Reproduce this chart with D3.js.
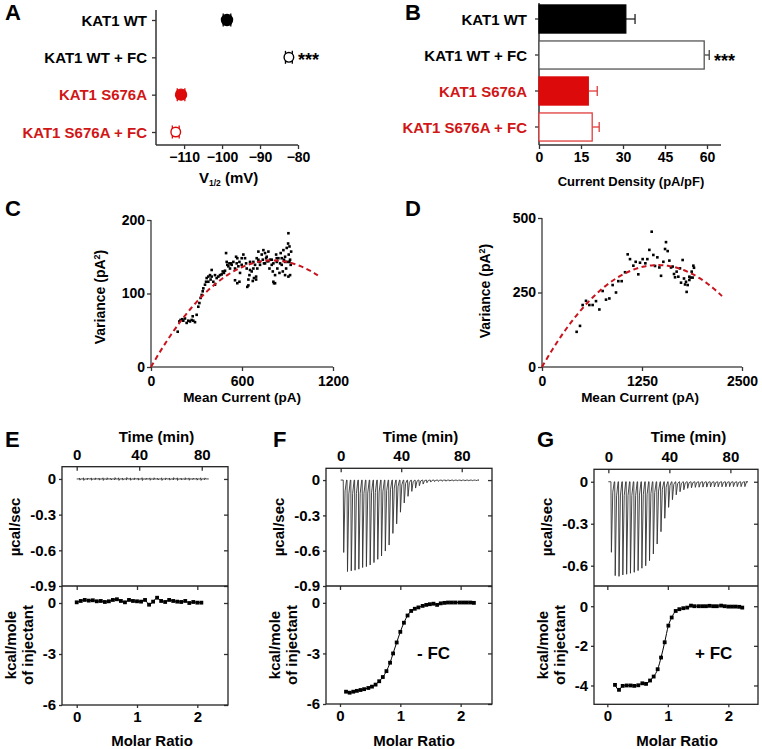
<!DOCTYPE html>
<html><head><meta charset="utf-8">
<script src="https://cdn.jsdelivr.net/npm/d3@7"></script>
<style>
body{margin:0;background:#fff;}
svg text{font-family:"Liberation Sans",Arial,Helvetica,sans-serif;font-weight:bold;}
</style></head><body>
<svg id="fig" width="762" height="749" xmlns="http://www.w3.org/2000/svg"></svg>
<script>
// ---------------- DATA ----------------
const categories = ["KAT1 WT", "KAT1 WT + FC", "KAT1 S676A", "KAT1 S676A + FC"];
const v12Mean = [-98.7, -82.4, -110.8, -112.2];
const v12Sem = [1.0, 0.9, 1.0, 0.9];
const v12Ticks = [-110, -100, -90, -80];
const densityMean = [31, 59, 17.6, 19];
const densitySem = [3.3, 1.8, 3.2, 2.5];
const densityTicks = [0, 15, 30, 45, 60];

// Panel C: mean current (pA), variance (pA^2)
const cPoints = [[176,48],[187,62],[195,64],[206,65],[213,63],[224,66],[235,60],[246,63],[257,62],[268,64],[279,63],[290,61],[301,71],[275,69],[312,82],[319,87],[327,94],[334,98],[341,103],[345,107],[356,112],[363,116],[367,121],[378,123],[389,125],[400,132],[393,119],[411,116],[422,112],[433,121],[444,123],[455,125],[466,126],[473,130],[481,128],[488,131],[495,155],[503,139],[510,137],[517,141],[521,134],[532,139],[543,143],[554,134],[561,150],[569,148],[576,137],[583,143],[587,128],[598,139],[609,153],[620,148],[627,141],[631,134],[635,109],[642,119],[649,125],[653,132],[664,130],[675,134],[679,121],[686,139],[693,123],[697,148],[701,134],[708,157],[715,143],[719,139],[730,153],[737,146],[741,159],[745,141],[752,155],[759,148],[763,150],[767,144],[774,157],[781,134],[785,146],[796,139],[803,130],[807,141],[811,114],[818,125],[825,153],[829,143],[833,134],[840,148],[847,128],[851,141],[855,155],[862,139],[869,130],[873,159],[877,146],[884,150],[891,134],[895,162],[899,143],[904,168],[906,182],[908,153],[913,164],[917,146],[917,125],[921,139],[924,157],[554,118],[569,114],[583,116],[642,111],[671,117],[693,119],[807,116],[818,114],[884,125],[906,123],[499,143],[528,141],[565,141],[598,148],[653,143],[675,143],[708,146],[752,141],[774,144],[796,146],[829,148],[862,148],[884,143],[913,143],[400,123],[422,125],[378,116]];
const cFitParams = [0.3625, 4414, 1100];   // i (pA), N, max current of fit
const cXTicks = [0, 600, 1200];
const cYTicks = [0, 100, 200];

// Panel D
const dPoints = [[433,118],[475,138],[508,208],[550,222],[592,208],[633,208],[675,221],[717,193],[758,255],[800,226],[842,230],[883,275],[925,250],[954,288],[996,288],[1038,318],[1071,378],[1100,362],[1142,340],[1171,353],[1204,311],[1225,350],[1258,362],[1292,348],[1317,362],[1342,393],[1371,454],[1392,376],[1413,339],[1442,368],[1467,334],[1488,306],[1517,353],[1538,396],[1550,419],[1571,389],[1592,357],[1613,334],[1633,337],[1650,312],[1663,301],[1683,320],[1704,303],[1725,331],[1738,283],[1758,359],[1775,297],[1788,277],[1808,252],[1821,275],[1842,292],[1858,300],[1871,320],[1883,300],[1892,340],[1900,333],[1800,286],[1842,303]];
const dFitParams = [0.4717, 6148, 2250];
const dXTicks = [0, 1250, 2500];
const dYTicks = [0, 250, 500];

// ITC panels
const injTimes = [1.7,4.2,6.7,9.2,11.7,14.2,16.7,19.2,21.7,24.2,26.7,29.2,31.7,34.2,36.7,39.2,41.7,44.2,46.7,49.2,51.7,54.2,56.7,59.2,61.7,64.2,66.7,69.2,71.7,74.2,76.7,79.2,81.7,84.2,86.7,89.2];
const ePeaks = [-0.010,-0.012,0.008,-0.011,0.009,-0.010,-0.012,0.010,-0.009,0.011,-0.012,-0.010,0.012,-0.011,0.009,-0.010,-0.013,0.008,-0.011,0.010,-0.009,-0.012,0.009,-0.010,0.011,-0.012,-0.009,0.010,-0.011,0.008,-0.010,-0.012,0.009];
const fPeaks = [-0.615,-0.777,-0.771,-0.766,-0.757,-0.743,-0.735,-0.721,-0.701,-0.673,-0.645,-0.603,-0.552,-0.453,-0.372,-0.273,-0.194,-0.138,-0.096,-0.068,-0.048,-0.034,-0.023,-0.017,-0.013,-0.011,-0.010,-0.009,-0.008,-0.008,-0.007,-0.007,-0.006,-0.006,-0.006,-0.005];
const gPeaks = [-0.504,-0.671,-0.676,-0.666,-0.661,-0.654,-0.647,-0.635,-0.618,-0.600,-0.564,-0.516,-0.445,-0.357,-0.261,-0.183,-0.128,-0.093,-0.071,-0.057,-0.047,-0.043,-0.040,-0.039,-0.038,-0.038,-0.037,-0.037,-0.036,-0.036,-0.036,-0.035,-0.035,-0.035,-0.035,-0.035];
const eHeat = [[0,0.04],[0.067,0.12],[0.133,0.18],[0.2,0.14],[0.267,0.16],[0.333,0.10],[0.4,0.12],[0.467,0.06],[0.533,0.10],[0.6,0.18],[0.667,0.22],[0.733,0.12],[0.8,0.04],[0.867,0.18],[0.933,0.12],[1.0,0.10],[1.067,0.08],[1.133,0.18],[1.2,-0.10],[1.267,0.08],[1.333,0.31],[1.4,0.12],[1.467,0.06],[1.533,0.18],[1.6,0.12],[1.667,0.08],[1.733,0.06],[1.8,0.12],[1.867,0.0],[1.933,0.06],[2.0,0.02],[2.067,0.02]];
const fHeat = [[0.10,-5.27],[0.16,-5.33],[0.22,-5.27],[0.28,-5.22],[0.34,-5.17],[0.40,-5.12],[0.47,-5.05],[0.53,-4.97],[0.59,-4.85],[0.65,-4.65],[0.71,-4.40],[0.77,-4.05],[0.83,-3.55],[0.88,-3.00],[0.94,-2.35],[1.00,-1.72],[1.06,-1.18],[1.12,-0.75],[1.18,-0.48],[1.24,-0.35],[1.30,-0.27],[1.37,-0.18],[1.43,-0.12],[1.49,-0.08],[1.55,-0.05],[1.61,-0.12],[1.67,-0.03],[1.73,0.0],[1.79,0.02],[1.85,0.02],[1.91,0.02],[1.98,0.02],[2.04,0.02],[2.10,0.02],[2.16,0.02],[2.22,0.0]];
const gHeat = [[0.127,-3.97],[0.193,-4.22],[0.254,-4.02],[0.32,-4.00],[0.386,-4.00],[0.446,-4.02],[0.512,-3.99],[0.579,-3.89],[0.64,-3.92],[0.706,-3.75],[0.766,-3.55],[0.832,-3.18],[0.888,-2.59],[0.948,-1.82],[1.009,-0.98],[1.064,-0.57],[1.13,-0.24],[1.19,-0.15],[1.256,-0.10],[1.32,-0.07],[1.383,0.03],[1.44,0.0],[1.51,0.0],[1.57,0.0],[1.63,0.0],[1.69,0.02],[1.75,0.0],[1.81,0.0],[1.88,0.03],[1.94,0.0],[2.0,-0.02],[2.06,-0.02],[2.12,-0.02],[2.18,-0.03],[2.23,-0.07]];
const timeTicks = [0, 40, 80];
const molarTicks = [0, 1, 2];
const efPowerTicks = [0, -0.3, -0.6, -0.9];
const gPowerTicks = [0, -0.3, -0.6];
const efHeatTicks = [0, -3, -6];
const gHeatTicks = [0, -2, -4];

// ---------------- DRAWING ----------------
const RED = "#dc0a0a";
const RED_TXT = "#d11616";
const AX = "#333";
const svg = d3.select("#fig");

function styleAxis(g, size) {
  g.attr("font-size", size).attr("font-family", '"Liberation Sans",Arial,sans-serif').attr("font-weight", "bold");
  g.select(".domain").remove();
  g.selectAll(".tick line").attr("stroke", AX).attr("stroke-width", 1.3);
  g.selectAll(".tick text").attr("fill", "#000");
}
function text(x, y, s, size, anchor, fill) {
  return svg.append("text").attr("x", x).attr("y", y).attr("font-size", size)
    .attr("text-anchor", anchor || "start").attr("fill", fill || "#000").text(s);
}
function vline(x, y1, y2, c, w) { svg.append("line").attr("x1", x).attr("x2", x).attr("y1", y1).attr("y2", y2).attr("stroke", c || AX).attr("stroke-width", w || 1.5); }
function hline(y, x1, x2, c, w) { svg.append("line").attr("x1", x1).attr("x2", x2).attr("y1", y).attr("y2", y).attr("stroke", c || AX).attr("stroke-width", w || 1.5); }
const isRed = i => i >= 2;
const isFilled = i => i % 2 === 0;
const hyph = f => d => f(d).replace("\u2212", "-");

// Panel letters
text(5, 20, "A", 22); text(405, 20, "B", 22);
text(5, 216, "C", 22); text(405, 216, "D", 22);
text(5, 447, "E", 22); text(273, 447, "F", 22); text(537, 447, "G", 22);

// ---------- Panel A ----------
{
  const x = d3.scaleLinear().domain([-117.4, -80]).range([156, 298]);
  const y = d3.scalePoint().domain(categories).range([20, 132]);
  vline(156, 10, 145); hline(145, 156, 298);
  const gx = svg.append("g").attr("transform", "translate(0,145)")
    .call(d3.axisBottom(x).tickValues(v12Ticks).tickSize(4).tickPadding(3).tickSizeOuter(0));
  styleAxis(gx, 14);
  const gy = svg.append("g").attr("transform", "translate(156,0)")
    .call(d3.axisLeft(y).tickSize(4).tickFormat(""));
  styleAxis(gy, 15);
  categories.forEach((c, i) => {
    text(147, y(c) + 5.5, c, 15, "end", isRed(i) ? RED_TXT : "#000");
    const col = isRed(i) ? RED : "#000";
    const cy = y(c);
    svg.append("line").attr("x1", x(v12Mean[i] - v12Sem[i])).attr("x2", x(v12Mean[i] + v12Sem[i]))
      .attr("y1", cy).attr("y2", cy).attr("stroke", col).attr("stroke-width", 1.3);
    [-1, 1].forEach(s => svg.append("line").attr("x1", x(v12Mean[i] + s * v12Sem[i])).attr("x2", x(v12Mean[i] + s * v12Sem[i]))
      .attr("y1", cy - 6.5).attr("y2", cy + 6.5).attr("stroke", col).attr("stroke-width", 1.3));
    svg.append("circle").attr("cx", x(v12Mean[i])).attr("cy", cy).attr("r", isFilled(i) ? 5.5 : 4.8)
      .attr("fill", isFilled(i) ? col : "#fff").attr("stroke", col).attr("stroke-width", 1.4);
  });
  text(298, 66, "***", 18, "start");
  const t = text(199, 183, "V", 15, "start");
  t.append("tspan").attr("font-size", 8.5).attr("dy", 3).text("1/2");
  t.append("tspan").attr("dy", -3).text(" (mV)");
}

// ---------- Panel B ----------
{
  const x = d3.scaleLinear().domain([0, 65]).range([539, 721]);
  const y = d3.scaleBand().domain(categories).range([1, 145]).paddingInner(0.22).paddingOuter(0.11);
  vline(539, 3, 145); hline(145, 539, 721);
  const gx = svg.append("g").attr("transform", "translate(0,145)")
    .call(d3.axisBottom(x).tickValues(densityTicks).tickSize(4).tickPadding(3).tickSizeOuter(0));
  styleAxis(gx, 14);
  const gy = svg.append("g").attr("transform", "translate(539,0)")
    .call(d3.axisLeft(y).tickSize(4).tickFormat(""));
  styleAxis(gy, 15);
  categories.forEach((c, i) => {
    const cy = y(c) + y.bandwidth() / 2;
    text(527, cy + 5.5, c, 15, "end", isRed(i) ? RED_TXT : "#000");
    const col = isRed(i) ? RED : "#000";
    const ecol = isRed(i) ? "#e03c3c" : (i === 1 ? "#444" : "#222");
    svg.append("line").attr("x1", x(densityMean[i])).attr("x2", x(densityMean[i] + densitySem[i]))
      .attr("y1", cy).attr("y2", cy).attr("stroke", ecol).attr("stroke-width", 1.3);
    svg.append("line").attr("x1", x(densityMean[i] + densitySem[i])).attr("x2", x(densityMean[i] + densitySem[i]))
      .attr("y1", cy - 5).attr("y2", cy + 5).attr("stroke", ecol).attr("stroke-width", 1.3);
    svg.append("rect").attr("x", x(0)).attr("y", y(c)).attr("width", x(densityMean[i]) - x(0)).attr("height", y.bandwidth())
      .attr("fill", isFilled(i) ? col : "#fff")
      .attr("stroke", isFilled(i) ? col : (isRed(i) ? "#e03c3c" : "#555")).attr("stroke-width", 1.3);
  });
  text(714, 67, "***", 18, "start");
  text(631, 186, "Current Density (pA/pF)", 13, "middle");
}

// ---------- Panels C & D ----------
function noisePanel(pts, fit, xDom, yDom, xR, yR, xTicks, yTicks, labX, labY, titleX) {
  const x = d3.scaleLinear().domain(xDom).range(xR);
  const y = d3.scaleLinear().domain(yDom).range(yR);
  vline(xR[0], yR[1], yR[0], "#555"); hline(yR[0], xR[0], xR[1], "#555");
  const gx = svg.append("g").attr("transform", `translate(0,${yR[0]})`)
    .call(d3.axisBottom(x).tickValues(xTicks).tickSize(4).tickPadding(5).tickSizeOuter(0).tickFormat(d3.format("d")));
  styleAxis(gx, 14);
  const gy = svg.append("g").attr("transform", `translate(${xR[0]},0)`)
    .call(d3.axisLeft(y).tickValues(yTicks).tickSize(4).tickPadding(2).tickSizeOuter(0).tickFormat(d3.format("d")));
  styleAxis(gy, 14);
  svg.append("g").selectAll("rect").data(pts).join("rect")
    .attr("x", d => x(d[0]) - 1.3).attr("y", d => y(d[1]) - 1.3).attr("width", 2.6).attr("height", 2.6).attr("fill", "#000");
  const [iu, N, imax] = fit;
  const fitPts = d3.range(0, imax + 1, imax / 100).map(I => [I, iu * I - I * I / N]);
  svg.append("path").attr("d", d3.line().x(d => x(d[0])).y(d => y(d[1]))(fitPts))
    .attr("fill", "none").attr("stroke", "#c8141e").attr("stroke-width", 2).attr("stroke-dasharray", "5,3.5");
  const t = svg.append("text").attr("transform", `translate(${labX},${labY}) rotate(-90)`)
    .attr("font-size", 14).attr("text-anchor", "middle").text("Variance (pA");
  t.append("tspan").attr("font-size", 9).attr("dy", -5).text("2");
  t.append("tspan").attr("dy", 5).text(")");
  text(titleX, 402, "Mean Current (pA)", 13.5, "middle");
}
noisePanel(cPoints, cFitParams, [0, 1200], [0, 200], [151, 333], [367, 220], cXTicks, cYTicks, 105, 297, 242);
noisePanel(dPoints, dFitParams, [0, 2500], [0, 500], [542, 742], [367, 218], dXTicks, dYTicks, 490, 291, 640);

// ---------- ITC panels ----------
function itcPanel(o) {
  const xT = d3.scaleLinear().domain(o.tDom).range([o.left, o.right]);
  const xM = d3.scaleLinear().domain(o.mDom).range([o.left, o.right]);
  const yP = d3.scaleLinear().domain(o.pDom).range([o.mid, o.top]);
  const yH = d3.scaleLinear().domain(o.hDom).range([o.bottom, o.mid]);
  const ax = [];
  ax.push(svg.append("g").attr("transform", `translate(0,${o.top})`)
    .call(d3.axisTop(xT).tickValues(timeTicks).tickSize(-4).tickPadding(7).tickSizeOuter(0).tickFormat(d3.format("d"))));
  ax.push(svg.append("g").attr("transform", `translate(${o.left},0)`)
    .call(d3.axisLeft(yP).tickValues(o.pTicks).tickSize(3).tickPadding(3).tickSizeOuter(0)
      .tickFormat(d => d === 0 ? "0" : hyph(d3.format(".1f"))(d))));
  ax.push(svg.append("g").attr("transform", `translate(${o.right},0)`)
    .call(d3.axisRight(yP).tickValues(o.pTicks).tickSize(-4).tickSizeOuter(0).tickFormat("")));
  ax.push(svg.append("g").attr("transform", `translate(${o.left},0)`)
    .call(d3.axisLeft(yH).tickValues(o.hTicks).tickSize(3).tickPadding(3).tickSizeOuter(0).tickFormat(hyph(d3.format("d")))));
  ax.push(svg.append("g").attr("transform", `translate(${o.right},0)`)
    .call(d3.axisRight(yH).tickValues(o.hTicks).tickSize(-4).tickSizeOuter(0).tickFormat("")));
  ax.push(svg.append("g").attr("transform", `translate(0,${o.bottom})`)
    .call(d3.axisBottom(xM).tickValues(molarTicks).tickSize(3).tickPadding(3).tickSizeOuter(0).tickFormat(d3.format("d"))));
  ax.push(svg.append("g").attr("transform", `translate(0,${o.mid})`)
    .call(d3.axisTop(xM).tickValues(molarTicks).tickSize(-4).tickSizeOuter(0).tickFormat("")));
  ax.forEach(g => styleAxis(g, 15));
  svg.append("rect").attr("x", o.left).attr("y", o.top).attr("width", o.right - o.left).attr("height", o.bottom - o.top)
    .attr("fill", "none").attr("stroke", "#222").attr("stroke-width", 1.3);
  hline(o.mid, o.left, o.right, "#222", 1.3);
  let d = `M${xT(0)},${yP(0)}`;
  o.peaks.forEach((p, i) => {
    const t = injTimes[i];
    if (o.small) {
      d += `L${xT(t)},${yP(0)}L${xT(t + 0.15)},${yP(-p * 0.8)}L${xT(t + 0.35)},${yP(p)}L${xT(t + 0.8)},${yP(0)}`;
    } else {
      d += `L${xT(t)},${yP(0)}L${xT(t + 0.3)},${yP(p)}L${xT(t + 1.2)},${yP(p * 0.15)}L${xT(t + 2.2)},${yP(0)}`;
    }
  });
  d += `L${xT(o.tEnd)},${yP(0)}`;
  svg.append("path").attr("d", d).attr("fill", "none").attr("stroke", "#333").attr("stroke-width", 0.9);
  svg.append("path").attr("d", d3.line().curve(d3.curveMonotoneX).x(p => xM(p[0])).y(p => yH(p[1]))(o.heat))
    .attr("fill", "none").attr("stroke", "#000").attr("stroke-width", 1);
  svg.append("g").selectAll("rect").data(o.heat).join("rect")
    .attr("x", p => xM(p[0]) - 1.9).attr("y", p => yH(p[1]) - 1.9).attr("width", 3.8).attr("height", 3.8).attr("fill", "#000");
  text(o.left + 94.5, 442, "Time (min)", 15, "middle");
  text(o.left + o.molarOff, 746, "Molar Ratio", 15, "middle");
  svg.append("text").attr("transform", `translate(${o.left - 42.5},527) rotate(-90)`)
    .attr("font-size", 15).attr("text-anchor", "middle").text("µcal/sec");
  svg.append("text").attr("transform", `translate(${o.left - 46.5},645) rotate(-90)`)
    .attr("font-size", 15).attr("text-anchor", "middle").text("kcal/mole");
  svg.append("text").attr("transform", `translate(${o.left - 29.5},645) rotate(-90)`)
    .attr("font-size", 15).attr("text-anchor", "middle").text("of injectant");
  if (o.label) text(o.labelX, 659, o.label, 17, "start");
}
itcPanel({ left: 62, right: 228, top: 466.7, mid: 586, bottom: 705,
  tDom: [-9.4, 96.8], mDom: [-0.244, 2.509], pDom: [-0.9, 0.103], hDom: [-6, 1.0],
  pTicks: efPowerTicks, hTicks: efHeatTicks, peaks: ePeaks, heat: eHeat, tEnd: 84.5, small: true, molarOff: 90 });
itcPanel({ left: 326, right: 492, top: 468.3, mid: 586, bottom: 704,
  tDom: [-9.7, 100.0], mDom: [-0.232, 2.52], pDom: [-0.9, 0.1], hDom: [-6, 1.0],
  pTicks: efPowerTicks, hTicks: efHeatTicks, peaks: fPeaks, heat: fHeat, tEnd: 91, molarOff: 88,
  label: "- FC", labelX: 417 });
itcPanel({ left: 594, right: 758, top: 469.3, mid: 586, bottom: 704.3,
  tDom: [-9.4, 98.1], mDom: [-0.22, 2.49], pDom: [-0.745, 0.089], hDom: [-4.95, 1.02],
  pTicks: gPowerTicks, hTicks: gHeatTicks, peaks: gPeaks, heat: gHeat, tEnd: 90, molarOff: 83,
  label: "+ FC", labelX: 695 });
</script>
</body></html>
